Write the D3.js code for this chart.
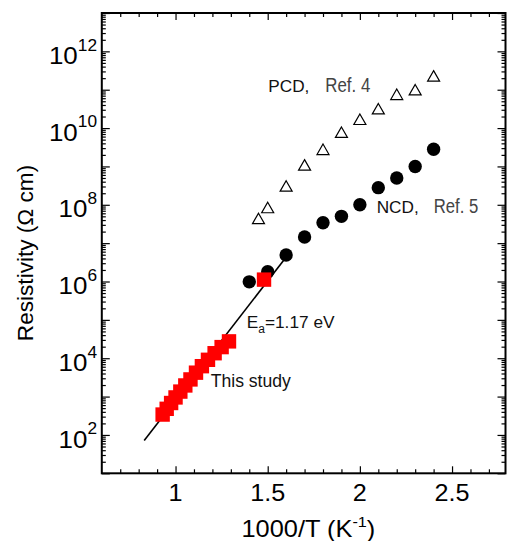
<!DOCTYPE html>
<html><head><meta charset="utf-8">
<script src="https://cdn.jsdelivr.net/npm/d3@7"></script>
<style>
html,body{margin:0;padding:0;background:#fff;}
text{font-family:"Liberation Sans",Arial,Helvetica,sans-serif;}
</style></head>
<body><svg id="c" width="507" height="541"></svg>
<script>
// ---- data ----
const pcdX = [1.45, 1.5, 1.6, 1.7, 1.8, 1.9, 2.0, 2.1, 2.2, 2.3, 2.4];
const pcdY = [4.4e7, 8.5e7, 3.1e8, 1.1e9, 2.8e9, 7.8e9, 1.7e10, 3.2e10, 7.6e10, 1.0e11, 2.3e11];
const ncdX = [1.4, 1.5, 1.6, 1.7, 1.8, 1.9, 2.0, 2.1, 2.2, 2.3, 2.4];
const ncdY = [9.8e5, 1.8e6, 4.9e6, 1.45e7, 3.4e7, 5.0e7, 1.0e8, 2.8e8, 5.0e8, 1.0e9, 2.8e9];
const studyX = [0.930, 0.952, 0.976, 1.0, 1.026, 1.053, 1.081, 1.111, 1.143, 1.176, 1.212, 1.25, 1.29, 1.48];
const studyY = [340, 480, 680, 950, 1350, 1950, 2800, 4200, 6200, 9100, 13500, 19500, 27500, 1.12e6];
const fitX = [0.83, 1.59];
const fitY = [72, 3.75e6];
const xTickLabels = [1, 1.5, 2, 2.5];
const yTickExponents = [2, 4, 6, 8, 10, 12];

// ---- layout ----
const L = 101.8, R = 505.5, T = 13, B = 473.3;
const x = d3.scaleLinear().domain([0.6, 2.79]).range([L, R]);
const y = d3.scaleLog().domain([1e1, 1e13]).range([B, T]);
const svg = d3.select("#c");

// ticks
const xMajor = d3.range(1, 2.51, 0.5);
const xMinor = d3.range(7, 28).map(d => d / 10).filter(d => Math.abs(d * 2 - Math.round(d * 2)) > 1e-6);
const yMajor = d3.range(1, 14).map(e => Math.pow(10, e));
const yMinor = [];
for (let e = 1; e < 13; e++) for (let m = 2; m <= 9; m++) yMinor.push(m * Math.pow(10, e));

function addAxis(gen, vals, size, tx, ty) {
  const g = svg.append("g").attr("transform", `translate(${tx},${ty})`)
    .call(gen.tickValues(vals).tickSize(size).tickFormat(""));
  g.select(".domain").remove();
  g.selectAll("line").attr("stroke", "#000").attr("stroke-width", 1.2);
}
addAxis(d3.axisBottom(x), xMajor, -7, 0, B);
addAxis(d3.axisBottom(x), xMinor, -4, 0, B);
addAxis(d3.axisTop(x), xMajor, -7, 0, T);
addAxis(d3.axisTop(x), xMinor, -4, 0, T);
addAxis(d3.axisLeft(y), yMajor, -8, L, 0);
addAxis(d3.axisLeft(y), yMinor, -4, L, 0);
addAxis(d3.axisRight(y), yMajor, -8, R, 0);
addAxis(d3.axisRight(y), yMinor, -4, R, 0);

// frame
svg.append("rect").attr("x", L).attr("y", T).attr("width", R - L).attr("height", B - T)
  .attr("fill", "none").attr("stroke", "#000").attr("stroke-width", 2);

// tick labels
svg.selectAll(".xl").data(xTickLabels).enter().append("text")
  .attr("transform", d => `translate(${x(d)},500.7) scale(1.05,1)`).attr("text-anchor", "middle")
  .attr("font-size", 24).attr("fill", "#000").text(d => d);

yTickExponents.forEach(e => {
  const t = svg.append("text")
    .attr("transform", `translate(97,${y(Math.pow(10, e)) + 12.6}) scale(1.08,1)`)
    .attr("text-anchor", "end").attr("font-size", 24).attr("fill", "#000");
  t.append("tspan").text("10");
  t.append("tspan").attr("dy", -13.3).attr("font-size", 16).text(e);
});

// axis titles
const xt = svg.append("text").attr("transform", "translate(241.5,536.7) scale(1.08,1)")
  .attr("font-size", 23.5).attr("fill", "#000");
xt.append("tspan").text("1000/T (K");
xt.append("tspan").attr("dy", -10).attr("font-size", 15).text("-1");
xt.append("tspan").attr("dy", 10).text(")");

svg.append("text").attr("transform", "translate(33,253) rotate(-90)")
  .attr("text-anchor", "middle").attr("font-size", 22.6).attr("fill", "#000")
  .text("Resistivity (\u03A9 cm)");

// fit line (under markers)
svg.append("line")
  .attr("x1", x(fitX[0])).attr("y1", y(fitY[0]))
  .attr("x2", x(fitX[1])).attr("y2", y(fitY[1]))
  .attr("stroke", "#000").attr("stroke-width", 1.6);

// PCD triangles (open)
const tw = 12, th = 10.5;
svg.selectAll(".tri").data(pcdX.map((d, i) => [d, pcdY[i]])).enter().append("path")
  .attr("d", d => {
    const cx = x(d[0]), cy = y(d[1]);
    return `M${cx},${cy - th / 2}L${cx + tw / 2},${cy + th / 2}L${cx - tw / 2},${cy + th / 2}Z`;
  })
  .attr("fill", "#fff").attr("stroke", "#000").attr("stroke-width", 1.2);

// NCD circles
svg.selectAll(".cir").data(ncdX.map((d, i) => [d, ncdY[i]])).enter().append("circle")
  .attr("cx", d => x(d[0])).attr("cy", d => y(d[1])).attr("r", 6.7).attr("fill", "#000");

// This study squares
const sq = 14.4;
svg.selectAll(".sq").data(studyX.map((d, i) => [d, studyY[i]])).enter().append("rect")
  .attr("x", d => x(d[0]) - sq / 2).attr("y", d => y(d[1]) - sq / 2)
  .attr("width", sq).attr("height", sq).attr("fill", "#ff0000");

// annotations
function label(xp, yp, main, ref, refW) {
  svg.append("text").attr("x", xp).attr("y", yp).attr("font-size", 17.2).attr("fill", "#111").text(main);
  svg.append("text").attr("x", xp + 57).attr("y", yp).attr("font-size", 19.5).attr("fill", "#444")
    .attr("textLength", refW).attr("lengthAdjust", "spacingAndGlyphs").text(ref);
}
label(268.3, 91.7, "PCD,", "Ref. 4", 45);
label(376.7, 213.3, "NCD,", "Ref. 5", 44.5);

const ea = svg.append("text").attr("x", 246.7).attr("y", 328.3).attr("font-size", 17.3).attr("fill", "#111");
ea.append("tspan").text("E");
ea.append("tspan").attr("dy", 5).attr("font-size", 12).text("a");
ea.append("tspan").attr("dy", -5).text("=1.17 eV");

svg.append("text").attr("x", 210.7).attr("y", 386.7).attr("font-size", 17.6).attr("fill", "#111").text("This study");
</script>
</body></html>
